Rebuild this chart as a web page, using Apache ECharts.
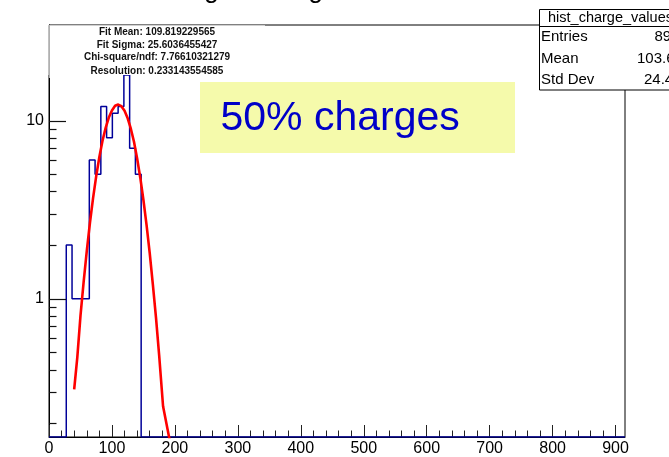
<!DOCTYPE html>
<html><head><meta charset="utf-8">
<script src="https://cdn.jsdelivr.net/npm/echarts@6/dist/echarts.min.js"></script>
<style>html,body{margin:0;padding:0;background:#fff}#c{width:669px;height:457px}</style>
</head><body><div id="c"></div>
<script>
// ---- data ----
const binEdges = [27.45, 36.6, 45.75, 54.9, 64.05, 73.2, 82.35, 91.5, 100.65, 109.8, 118.95, 128.1, 137.25, 146.4];
const binCounts = [2, 1, 1, 1, 6, 5, 12, 8, 11, 12, 18, 7, 5];
const xRange = [0, 915];
const yRange = [0.1673, 34.4];
const fitX = [40, 45, 50, 55, 60, 65, 70, 75, 80, 85, 90, 95, 100, 105, 110, 115, 120, 125, 130, 135, 140, 145, 150, 155, 160, 165, 170, 175, 181.2, 190.8, 200];
const fitY = [0.31, 0.47, 0.8, 1.24, 1.85, 2.66, 3.67, 4.88, 6.25, 7.7, 9.1, 10.4, 11.4, 12.1, 12.3, 12.05, 11.36, 10.3, 9.0, 7.6, 6.13, 4.78, 3.58, 2.59, 1.8, 1.2, 0.78, 0.48, 0.249, 0.167, 0.112];
const xTickLabels = [0, 100, 200, 300, 400, 500, 600, 700, 800, 900];
const xMinorTicks = [20,40,60,80,120,140,160,180,220,240,260,280,320,340,360,380,420,440,460,480,520,540,560,580,620,640,660,680,720,740,760,780,820,840,860,880];
const yTickLabels = [1, 10];
const yMinorTicks = [0.2,0.3,0.4,0.5,0.6,0.7,0.8,0.9,2,3,4,5,6,7,8,9,20,30];
const fitLines = ['Fit Mean: 109.819229565', 'Fit Sigma: 25.6036455427', 'Chi-square/ndf: 7.76610321279', 'Resolution: 0.233143554585'];
const statsTitle = 'hist_charge_values';
const statsNames = ['Entries', 'Mean', 'Std Dev'];
const statsValues = ['89', '103.6', '24.44'];
const boxText = '50% charges';
const titleText = 'Charges histogram';

// ---- build ----
const histData = [[xRange[0], yRange[0]]];
binCounts.forEach((c, i) => histData.push([binEdges[i], c]));
histData.push([binEdges[binEdges.length - 1], yRange[0]]);
histData.push([xRange[1], yRange[0]]);
const fitData = fitX.map((x, i) => [x, fitY[i]]);
const MAJOR_LEN = 17, MINOR_LEN = 7.5;

const FONT = '"Liberation Sans", Arial, Helvetica, sans-serif';
const chart = echarts.init(document.getElementById('c'), null, {renderer: 'canvas'});

const axisTxt = {color: '#000', fontSize: 16, fontFamily: FONT};
chart.setOption({
  animation: false,
  backgroundColor: '#fff',
  grid: {left: 49, right: 44, top: 25, bottom: 18, show: true, borderColor: '#000', borderWidth: 1, backgroundColor: 'transparent', containLabel: false},
  xAxis: [
    {type: 'value', min: xRange[0], max: xRange[1], position: 'bottom',
     axisLine: {show: true, lineStyle: {color: '#000', width: 1}},
     axisTick: {show: true, inside: true, length: 12, customValues: xTickLabels, lineStyle: {color: '#222', width: 1}},
     axisLabel: {show: true, customValues: xTickLabels, margin: 4, ...axisTxt},
     splitLine: {show: false}},
    {type: 'value', min: xRange[0], max: xRange[1], position: 'bottom',
     axisLine: {show: false},
     axisTick: {show: true, inside: true, length: 6.5, customValues: xMinorTicks, lineStyle: {color: '#222', width: 1}},
     axisLabel: {show: false}, splitLine: {show: false}}
  ],
  yAxis: [
    {type: 'log', min: yRange[0], max: yRange[1], logBase: 10, position: 'left',
     axisLine: {show: true, lineStyle: {color: '#000', width: 1}},
     axisTick: {show: false},
     axisLabel: {show: true, customValues: yTickLabels, margin: 5, ...axisTxt},
     splitLine: {show: false}}
  ],
  series: [
    {type: 'line', xAxisIndex: 0, yAxisIndex: 0, data: histData, step: 'end', showSymbol: false, symbol: 'none',
     lineStyle: {color: '#000099', width: 1.5}, clip: true, z: 3},
    {type: 'line', xAxisIndex: 0, yAxisIndex: 0, data: fitData, smooth: false, showSymbol: false, symbol: 'none',
     lineStyle: {color: '#ff0000', width: 2.6, join: 'round'}, clip: true, z: 4}
  ]
});

// y-axis ticks placed through the library's own scales (axis-only conversions)
const els = [];
const x0 = chart.convertToPixel({xAxisIndex: 0}, xRange[0]);
const addTick = (v, len) => {
  const py = chart.convertToPixel({yAxisIndex: 0}, v);
  if (typeof py !== 'number' || !isFinite(py) || !isFinite(x0)) return;
  const y = Math.round(py) + 0.5;
  els.push({type: 'line', z: 50, silent: true, shape: {x1: x0, y1: y, x2: x0 + len, y2: y}, style: {stroke: '#111', lineWidth: 1.2}});
};
yTickLabels.forEach(v => addTick(v, MAJOR_LEN));
yMinorTicks.forEach(v => addTick(v, MINOR_LEN));

const fitYs = [32.7, 44.8, 57.7, 71];
const statsYs = [37, 58.5, 79.5];
const statsValX = [654.5, 637, 644];
els.push(
  {type: 'text', z: 100, style: {text: titleText, x: 148, y: 4, font: '26px ' + FONT, fill: '#000', textAlign: 'left', textVerticalAlign: 'bottom'}},
  {type: 'rect', z: 100, shape: {x: 48.5, y: 25, width: 216.5, height: 50}, style: {fill: '#fff'}},
  {type: 'line', z: 101, shape: {x1: 48.5, y1: 25.5, x2: 265, y2: 25.5}, style: {stroke: '#d0d0d0', lineWidth: 1}},
  {type: 'line', z: 101, shape: {x1: 49.5, y1: 25, x2: 49.5, y2: 78}, style: {stroke: '#b0b0b0', lineWidth: 1}},
  {type: 'rect', z: 100, shape: {x: 200, y: 82, width: 315, height: 71}, style: {fill: '#f5faab'}},
  {type: 'text', z: 101, style: {text: boxText, x: 220.5, y: 119, font: '41px ' + FONT, fill: '#0000c8', textAlign: 'left', textVerticalAlign: 'middle'}},
  {type: 'rect', z: 100, shape: {x: 539.5, y: 9.5, width: 140, height: 80.5}, style: {fill: '#fff', stroke: '#000', lineWidth: 1}},
  {type: 'line', z: 101, shape: {x1: 539.5, y1: 26.5, x2: 669, y2: 26.5}, style: {stroke: '#000', lineWidth: 1}},
  {type: 'text', z: 101, style: {text: statsTitle, x: 548, y: 18, font: '14.5px ' + FONT, fill: '#000', textAlign: 'left', textVerticalAlign: 'middle'}}
);
fitLines.forEach((t, i) => els.push({type: 'text', z: 101, style: {text: t, x: 157, y: fitYs[i], font: 'bold 10px ' + FONT, fill: '#111', textAlign: 'center', textVerticalAlign: 'middle'}}));
statsNames.forEach((t, i) => {
  els.push({type: 'text', z: 101, style: {text: t, x: 541, y: statsYs[i], font: '15px ' + FONT, fill: '#000', textAlign: 'left', textVerticalAlign: 'middle'}});
  els.push({type: 'text', z: 101, style: {text: statsValues[i], x: statsValX[i], y: statsYs[i], font: '15px ' + FONT, fill: '#000', textAlign: 'left', textVerticalAlign: 'middle'}});
});
chart.setOption({graphic: {elements: els}});
</script></body></html>
